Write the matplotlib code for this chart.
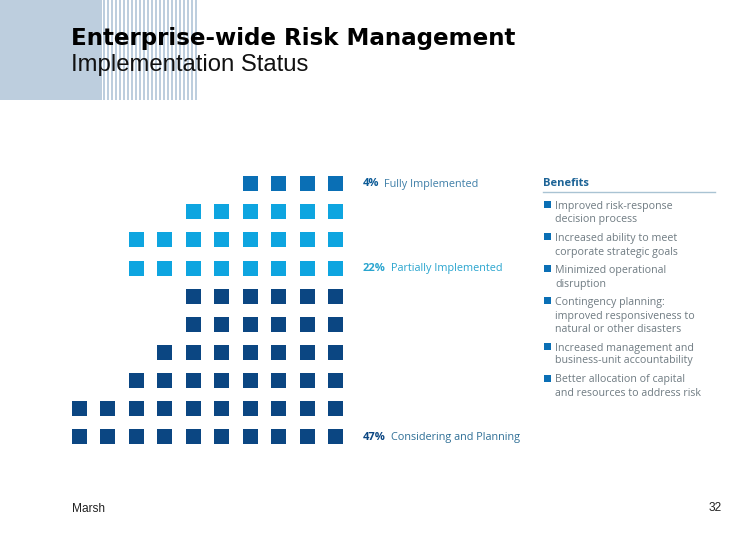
import matplotlib
matplotlib.use("Agg")
import matplotlib.pyplot as plt
from matplotlib.patches import Rectangle

# squares per row, top to bottom, right aligned
ROW_COUNTS = [4, 6, 8, 8, 6, 6, 7, 8, 10, 10]
ROW_COLORS = ["#0a6fb5", "#0ea5e0", "#0ea5e0", "#0ea5e0", "#0b4682", "#0b4682",
              "#0b4682", "#0b4682", "#0b4682", "#0b4682"]
N_COLS = 10

STATUS_PCT = ["4%", "22%", "47%"]
STATUS_NAMES = ["Fully Implemented", "Partially Implemented", "Considering and Planning"]
STATUS_COLORS = ["#0b5a96", "#2aa5cf", "#0b4682"]
STATUS_NAME_COLORS = ["#3f7fa8", "#2aa5cf", "#2f6f96"]

BENEFITS = [
    ["Improved risk-response", "decision process"],
    ["Increased ability to meet", "corporate strategic goals"],
    ["Minimized operational", "disruption"],
    ["Contingency planning:", "improved responsiveness to", "natural or other disasters"],
    ["Increased management and", "business-unit accountability"],
    ["Better allocation of capital", "and resources to address risk"],
]

W, H = 756, 540
fig = plt.figure(figsize=(W / 100, H / 100), dpi=100, facecolor="white")

# page layer in pixel coordinates
page = fig.add_axes([0, 0, 1, 1])
page.set_xlim(0, W)
page.set_ylim(H, 0)
page.axis("off")

# header block with stripes
page.add_patch(Rectangle((0, 0), 102, 100, color="#bdcede", lw=0))
for x in range(103, 199, 4):
    page.add_patch(Rectangle((x, 0), 2, 100, color="#bdcede", lw=0))

page.text(71, 38, "Enterprise-wide Risk Management", family="DejaVu Sans",
          weight="bold", size=16.6, color="black", va="center")
page.text(71, 65.5, "Implementation Status", family="Liberation Sans", size=17.2,
          color="#111111", va="center")
page.text(72, 509, "Marsh", family="Liberation Sans", size=8.6, color="#222222", va="center")
page.text(722, 508, "32", family="Liberation Sans", size=8.6, color="#222222", va="center", ha="right")

# square grid, axes units are column and row numbers
cell_w, cell_h = 28.5, 28.1
left, top = 78.5 - cell_w / 2, 183.3 - cell_h / 2
grid = fig.add_axes([left / W, 1 - (top + cell_h * 10) / H, cell_w * N_COLS / W, cell_h * 10 / H])
grid.set_xlim(-0.5, N_COLS - 0.5)
grid.set_ylim(9.5, -0.5)
grid.axis("off")
grid.patch.set_alpha(0)
for row, (count, color) in enumerate(zip(ROW_COUNTS, ROW_COLORS)):
    cols = list(range(N_COLS - count, N_COLS))
    grid.scatter(cols, [row] * count, marker="s", s=(15 * 0.72) ** 2, color=color, linewidths=0)

# status labels
status_y = [184, 268.5, 437.5]
name_x = [384, 391, 391]
for i in range(3):
    page.text(363, status_y[i], STATUS_PCT[i], family="Open Sans", weight="bold", size=8,
              color=STATUS_COLORS[i], va="center")
    page.text(name_x[i], status_y[i], STATUS_NAMES[i], family="Open Sans", size=7.85,
              color=STATUS_NAME_COLORS[i], va="center")

# benefits list
page.text(543, 184, "Benefits", family="Open Sans", weight="bold", size=8, color="#1c6396", va="center")
page.plot([543, 715], [192, 192], color="#a9c3d3", lw=1)

line_y = [[206, 219.5], [238, 252], [270, 284], [302, 316, 329], [348, 361], [379.5, 393]]
for lines, ys in zip(BENEFITS, line_y):
    page.add_patch(Rectangle((543.5, ys[0] - 5), 7, 7, color="#0a6fb5", lw=0))
    for line, y in zip(lines, ys):
        page.text(555, y, line, family="Open Sans", size=7.7, color="#6f7b82", va="center")

fig.savefig("out.png", dpi=100)
